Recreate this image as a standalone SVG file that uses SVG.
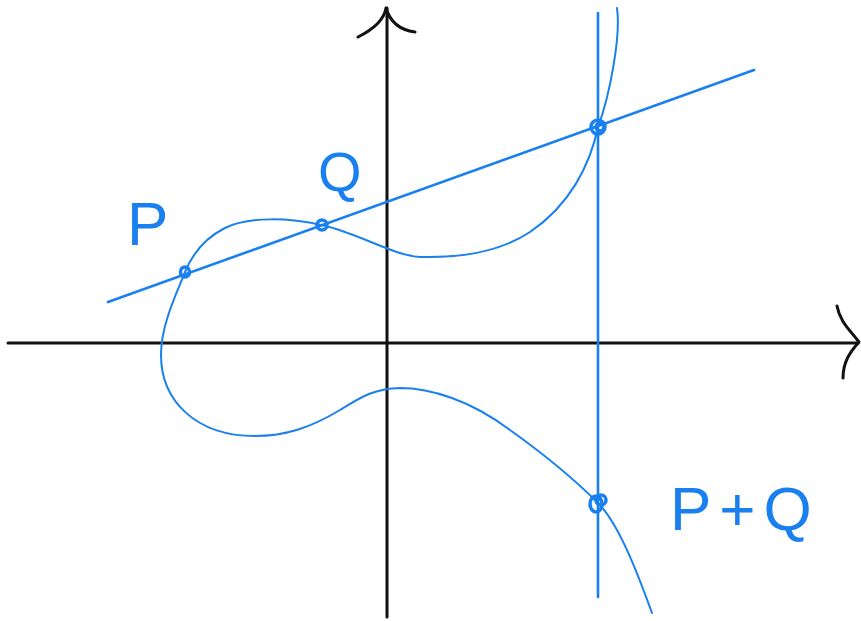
<svg xmlns="http://www.w3.org/2000/svg" width="861" height="621" viewBox="0 0 861 621">
<style>
.axis{fill:none;stroke:#111;stroke-width:3;stroke-linecap:round;stroke-linejoin:round}
.blue{fill:none;stroke:#1a80f0;stroke-linecap:round;stroke-linejoin:round}
.line{stroke-width:2.6}
.curve{stroke-width:2}
.pt{fill:none;stroke:#1a80f0;stroke-width:3.5}
.lbl{font-family:"Liberation Sans",Arial,sans-serif;fill:#1a80f0}
</style>
<rect width="861" height="621" fill="#fff"/>
<g id="connectors">
  <g id="axes">
    <path class="axis" d="M8,343 L858,343"/>
    <path class="axis" d="M837,306 C840,322 850,330 859,342 C850,352 843,362 843,378"/>
    <path class="axis" d="M387,8 L387,617"/>
    <path class="axis" d="M358,37 C372,30 384,20 386,8 C390,22 400,30 415,32"/>
  </g>
  <path id="secant" class="blue line" d="M108,302 L754,70"/>
  <path id="vertical" class="blue line" d="M598,13 L598,597"/>
  <path id="curve" class="blue curve" d="M617,8 C621,35 610,95 598,127 C590,165 570,205 530,232 C500,252 460,258 420,257 C395,256 360,234 322,225 C290,218 250,216 225,228 C205,238 192,255 185,272 C176,295 161,325 161,355 C161,400 195,436 255,436 C285,436 310,428 340,410 C360,398 372,389 400,388 C430,388 470,400 510,430 C545,455 575,480 598,503 C620,525 640,580 652,613"/>
</g>
<g id="P">
  <ellipse class="pt" cx="185" cy="272" rx="4.5" ry="5"/>
  <text class="lbl" x="127" y="245" font-size="62">P</text>
</g>
<g id="Q">
  <circle class="pt" cx="322" cy="225" r="5"/>
  <text class="lbl" x="318" y="191" font-size="56">Q</text>
</g>
<g id="R">
  <circle class="pt" cx="598" cy="127" r="7"/>
  <circle class="pt" cx="600" cy="127" r="4" stroke-width="2.5"/>
</g>
<g id="PplusQ">
  <ellipse class="pt" cx="596" cy="504" rx="6" ry="8"/>
  <circle class="pt" cx="601" cy="500" r="5" stroke-width="2.5"/>
  <text class="lbl" x="670" y="530" font-size="62" letter-spacing="8">P+Q</text>
</g>
</svg>
